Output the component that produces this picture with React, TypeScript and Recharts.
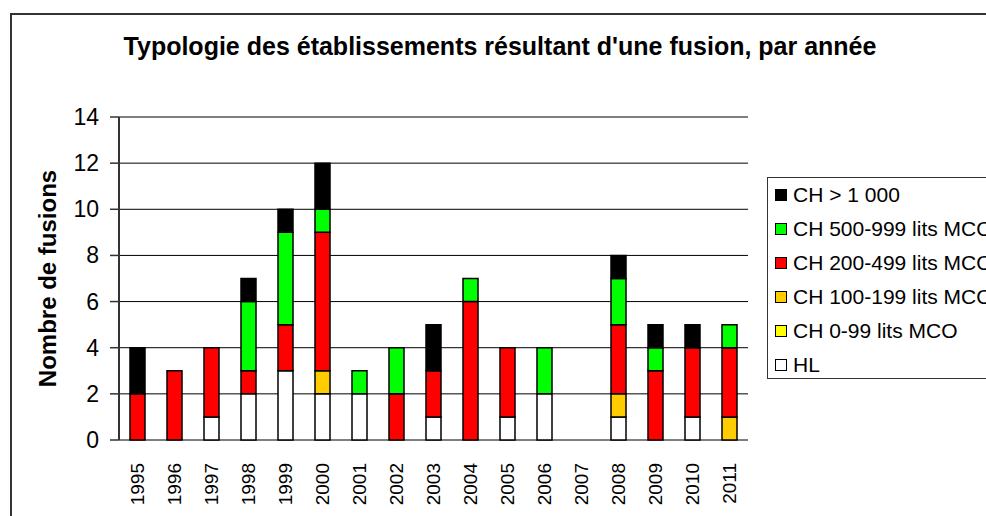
import React from "react";
import { BarChart, Bar, XAxis, YAxis, CartesianGrid } from "recharts";

const years = ["1995","1996","1997","1998","1999","2000","2001","2002","2003","2004","2005","2006","2007","2008","2009","2010","2011"];
const hl =      [0,0,1,2,3,2,2,0,1,0,1,2,0,1,0,1,0];
const ch0_99 =  [0,0,0,0,0,0,0,0,0,0,0,0,0,0,0,0,0];
const ch100 =   [0,0,0,0,0,1,0,0,0,0,0,0,0,1,0,0,1];
const ch200 =   [2,3,3,1,2,6,0,2,2,6,3,0,0,3,3,3,3];
const ch500 =   [0,0,0,3,4,1,1,2,0,1,0,2,0,2,1,0,1];
const ch1000 =  [2,0,0,1,1,2,0,0,2,0,0,0,0,1,1,1,0];
const yTicks = [0,2,4,6,8,10,12,14];
const edgeTicks = [0,1,2,3,4,5,6,7,8,9,10,11,12,13,14,15,16,17];

const series = [
  { key: "hl", name: "HL", color: "#FFFFFF", values: hl },
  { key: "c0", name: "CH 0-99 lits MCO", color: "#FFFF00", values: ch0_99 },
  { key: "c100", name: "CH 100-199 lits MCO", color: "#FFCC00", values: ch100 },
  { key: "c200", name: "CH 200-499 lits MCO", color: "#FF0000", values: ch200 },
  { key: "c500", name: "CH 500-999 lits MCO", color: "#00FF00", values: ch500 },
  { key: "c1000", name: "CH > 1 000", color: "#000000", values: ch1000 },
];

const data = years.map((y, i) => {
  const row: any = { year: y };
  series.forEach((s) => { row[s.key] = s.values[i]; });
  return row;
});

const FONT = "'Liberation Sans', Arial, sans-serif";

const XTick = (props: any) => {
  const { x, y, payload } = props;
  const yy = y + 15;
  return (
    <text x={x} y={yy} transform={`rotate(-90 ${x} ${yy})`} textAnchor="end" dominantBaseline="central"
      fontSize={19} fontFamily={FONT} fill="#000">{payload.value}</text>
  );
};

const YTick = (props: any) => {
  const { x, y, payload } = props;
  return (
    <text x={x - 9} y={y} textAnchor="end" dominantBaseline="central" fontSize={23} fontFamily={FONT} fill="#000">{payload.value}</text>
  );
};

export default function App() {
  return (
    <div style={{ position: "fixed", left: 0, top: 0, width: 986, height: 516, overflow: "hidden", background: "#fff" }}>
      <div style={{ position: "absolute", left: 10, top: 13, width: 1100, height: 700, border: "2px solid #333", boxSizing: "border-box" }} />
      <div style={{ position: "absolute", left: 0, width: 1000, top: 31, textAlign: "center", fontFamily: FONT, fontWeight: "bold", fontSize: 25, lineHeight: "30px", color: "#000", whiteSpace: "nowrap" }}>
        Typologie des établissements résultant d'une fusion, par année
      </div>
      <div style={{ position: "absolute", left: 0, top: 0 }}>
        <BarChart width={986} height={516} data={data} margin={{ top: 117, right: 238, bottom: 6, left: 59 }} barSize={15}>
          <CartesianGrid vertical={false} stroke="#000" strokeWidth={1} yAxisId="l" xAxisId="cat" horizontalValues={yTicks} />
          <XAxis xAxisId="top" orientation="top" type="number" domain={[0, 17]} allowDataOverflow height={0} tick={false} tickLine={false} axisLine={{ stroke: "#888", strokeWidth: 1.5 }} />
          <XAxis xAxisId="num" type="number" domain={[0, 17]} ticks={edgeTicks} allowDataOverflow height={0} tick={false} tickSize={8} tickLine={{ stroke: "#000", strokeWidth: 1.5 }} axisLine={{ stroke: "#333", strokeWidth: 1.5 }} interval={0} />
          <XAxis xAxisId="cat" dataKey="year" height={70} axisLine={false} tickLine={false} interval={0} tick={<XTick />} />
          <YAxis yAxisId="l" width={60} domain={[0, 14]} ticks={yTicks} interval={0} tickSize={9} tickLine={{ stroke: "#333", strokeWidth: 1.5 }} axisLine={{ stroke: "#333", strokeWidth: 2 }} tick={<YTick />}
            label={{
              content: (p: any) => {
                const vb = p.viewBox || {};
                const cy = vb.y + vb.height / 2;
                return (
                  <text x={47} y={cy} transform={`rotate(-90 47 ${cy})`} textAnchor="middle" dominantBaseline="central" fontSize={24} fontWeight="bold" fontFamily={FONT} fill="#000">Nombre de fusions</text>
                );
              },
            }} />
          <YAxis yAxisId="r" orientation="right" width={0} domain={[0, 14]} tick={false} tickLine={false} axisLine={{ stroke: "#888", strokeWidth: 1.5 }} />
          {series.map((s) => (
            <Bar key={s.key} dataKey={s.key} name={s.name} stackId="a" xAxisId="cat" yAxisId="l" fill={s.color} stroke="#000" strokeWidth={1.5} isAnimationActive={false} />
          ))}
        </BarChart>
      </div>
      <div style={{ position: "absolute", left: 767, top: 177, width: 400, minWidth: 400, height: 202, borderTop: "1.5px solid #333", borderLeft: "1.5px solid #333", borderBottom: "1.5px solid #333", boxSizing: "border-box", background: "#fff" }}>
        {[...series].reverse().map((s) => (
          <div key={s.key} style={{ display: "flex", alignItems: "center", height: 34, fontFamily: FONT, fontSize: 21, color: "#000", whiteSpace: "nowrap" }}>
            <span style={{ display: "inline-block", flex: "none", width: 12, height: 12, background: s.color, border: "1.5px solid #000", boxSizing: "border-box", marginLeft: 7, marginRight: 6 }} />
            {s.name}
          </div>
        ))}
      </div>
    </div>
  );
}
